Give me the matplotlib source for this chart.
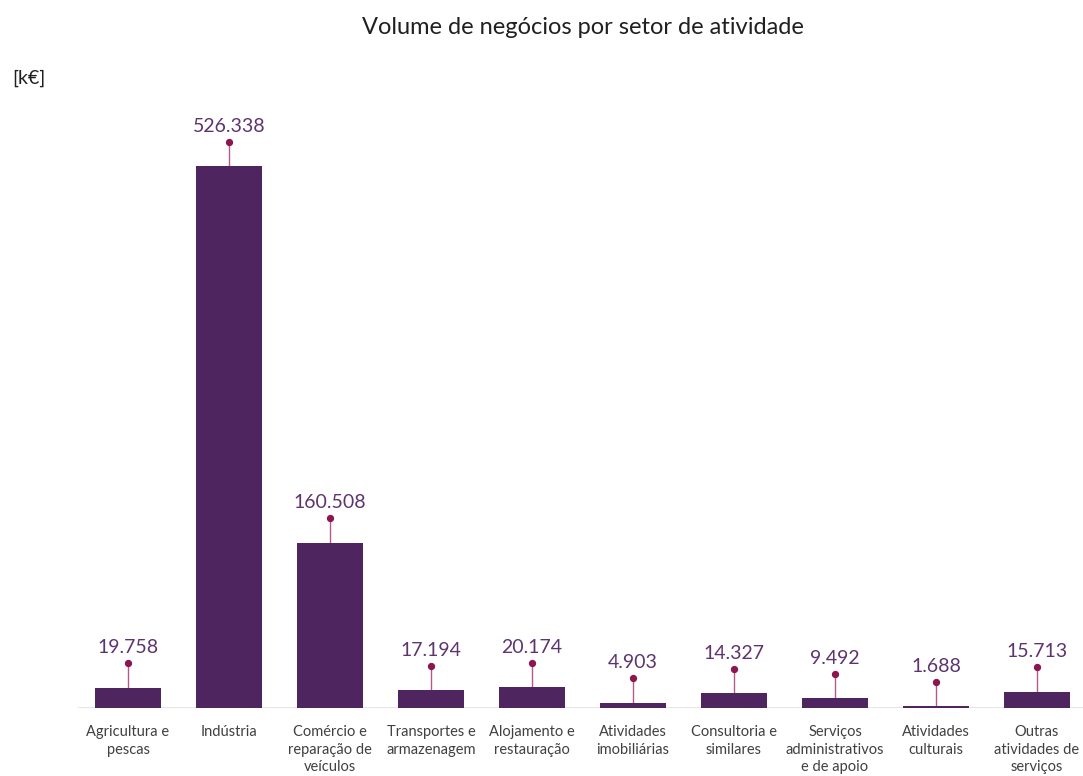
import matplotlib.pyplot as plt

plt.rcParams['font.family'] = ['Lato', 'DejaVu Sans']

# dados do gráfico
setores = ["Agricultura e\npescas", "Indústria", "Comércio e\nreparação de\nveículos",
           "Transportes e\narmazenagem", "Alojamento e\nrestauração", "Atividades\nimobiliárias",
           "Consultoria e\nsimilares", "Serviços\nadministrativos\ne de apoio",
           "Atividades\nculturais", "Outras\natividades de\nserviços"]
volume = [19758, 526338, 160508, 17194, 20174, 4903, 14327, 9492, 1688, 15713]
rotulos = ["19.758", "526.338", "160.508", "17.194", "20.174", "4.903",
           "14.327", "9.492", "1.688", "15.713"]

cor_barra = "#4f2560"
cor_haste = "#b5588a"
cor_ponto = "#8c1650"
cor_texto = "#5e3470"

fig = plt.figure(figsize=(10.83, 7.76), dpi=100)
ax = fig.add_axes([0.0716, 0.0876, 0.9284, 0.783])

x = list(range(len(setores)))
haste = 24000

ax.bar(x, volume, width=0.66, color=cor_barra, zorder=3)
ax.axhline(0, color="#e3e3e3", lw=2, zorder=2)
topo = [v + haste for v in volume]
ax.vlines(x, volume, topo, color=cor_haste, lw=1, zorder=2)
ax.scatter(x, topo, s=18, color=cor_ponto, zorder=4)
for xi, t, r in zip(x, topo, rotulos):
    ax.annotate(r, (xi, t), xytext=(0, 5), textcoords="offset points",
                ha="center", va="bottom", fontsize=14, color=cor_texto)

ax.set_xlim(-0.5, 9.455)
ax.set_ylim(0, 590400)
ax.set_xticks(x)
ax.set_xticklabels(setores, fontsize=10.5, color="#404040", linespacing=1.35)
ax.tick_params(axis="x", length=0, pad=12)
ax.set_yticks([])
for s in ax.spines.values():
    s.set_visible(False)

fig.text(0.538, 0.965, "Volume de negócios por setor de atividade",
         ha="center", va="center", fontsize=17, color="#202020")
fig.text(0.011, 0.899, "[k€]", ha="left", va="center", fontsize=14, color="#202020")

fig.savefig("out.png", dpi=100)
